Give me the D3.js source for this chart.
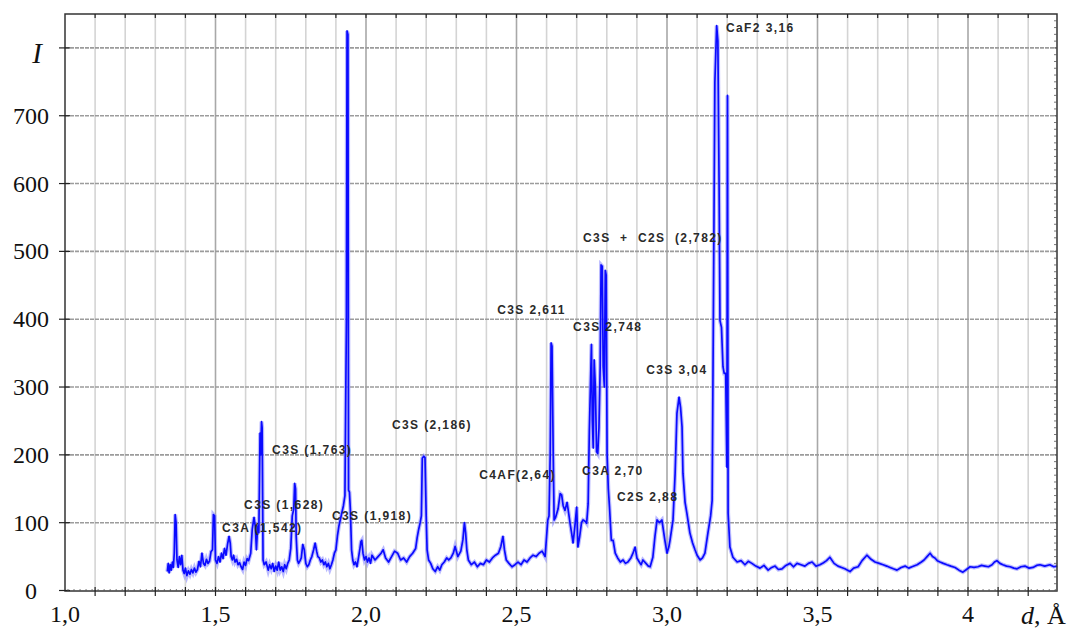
<!DOCTYPE html>
<html>
<head>
<meta charset="utf-8">
<script src="https://cdn.jsdelivr.net/npm/d3@7"></script>
<style>
  body { margin: 0; background: #fff; }
  .ann { font-family: "Liberation Sans", Arial, sans-serif; font-weight: bold; font-size: 12px; fill: #2a2a2a; letter-spacing: 1.4px; white-space: pre; }
  .tick-label { font-family: "Liberation Serif", "Times New Roman", serif; font-size: 24px; fill: #111; }
</style>
</head>
<body>
<svg id="chart" width="1072" height="630"></svg>
<script>
(function(window, document, undefined){

  // tick labels (decimal comma as in the original)
  var xTickValues = [1.0, 1.5, 2.0, 2.5, 3.0, 3.5, 4.0];
  var xTickLabels = ["1,0", "1,5", "2,0", "2,5", "3,0", "3,5", "4"];
  var yTickValues = [0, 100, 200, 300, 400, 500, 600, 700];
  var yTickLabels = ["0", "100", "200", "300", "400", "500", "600", "700"];

  // peak labels: text, d (left edge of text), I (middle of text)
  var annText = ["C3A (1,542)", "C3S (1,628)", "C3S (1,763)", "C3S (1,918)", "C3S (2,186)",
                 "C4AF(2,64)", "C3S 2,611", "C3S 2,748", "C3S  +  C2S  (2,782)", "C3A 2,70",
                 "C2S 2,88", "C3S 3,04", "CaF2 3,16"];
  var annD = [1.522, 1.595, 1.688, 1.887, 2.086, 2.376, 2.436, 2.688, 2.721, 2.718, 2.834, 2.931, 3.196];
  var annI = [92, 126, 207, 110, 244, 170, 413, 388, 519, 176, 138, 325, 830];

  // diffractogram, [d (Å), I]
  var spectrum = [
    [1.340,28],[1.343,40],[1.346,26],[1.350,38],[1.353,30],[1.357,42],[1.360,34],[1.363,55],[1.366,112],[1.369,100],
    [1.372,45],[1.376,34],[1.380,50],[1.384,38],[1.388,52],[1.392,30],[1.396,25],[1.400,33],[1.405,22],[1.410,29],
    [1.415,24],[1.420,31],[1.425,26],[1.430,33],[1.435,27],[1.440,31],[1.445,43],[1.450,35],[1.455,55],[1.460,40],
    [1.465,37],[1.470,46],[1.475,40],[1.480,43],[1.485,57],[1.490,60],[1.493,112],[1.497,110],[1.500,45],[1.505,40],
    [1.510,50],[1.515,42],[1.520,55],[1.525,47],[1.530,62],[1.535,52],[1.540,68],[1.545,80],[1.549,70],[1.552,50],
    [1.556,45],[1.560,52],[1.565,42],[1.570,46],[1.575,38],[1.580,41],[1.585,35],[1.590,31],[1.595,42],[1.600,37],
    [1.605,47],[1.610,44],[1.617,55],[1.622,90],[1.628,108],[1.632,95],[1.636,60],[1.640,95],[1.644,85],[1.648,232],
    [1.650,200],[1.653,249],[1.655,240],[1.658,45],[1.662,38],[1.668,42],[1.675,30],[1.680,38],[1.685,32],[1.690,40],
    [1.695,28],[1.700,36],[1.705,30],[1.710,42],[1.715,30],[1.720,35],[1.725,28],[1.730,38],[1.735,32],[1.740,40],
    [1.745,45],[1.750,62],[1.755,110],[1.760,120],[1.763,158],[1.766,150],[1.768,80],[1.772,45],[1.776,40],[1.781,44],
    [1.785,48],[1.790,68],[1.795,60],[1.800,40],[1.805,35],[1.810,38],[1.815,45],[1.820,50],[1.826,60],[1.831,70],
    [1.836,58],[1.840,50],[1.845,48],[1.850,42],[1.855,45],[1.860,38],[1.865,42],[1.870,35],[1.875,40],[1.880,32],
    [1.885,38],[1.890,45],[1.895,55],[1.900,60],[1.905,80],[1.910,95],[1.915,105],[1.920,115],[1.925,125],[1.930,140],
    [1.933,300],[1.935,400],[1.937,825],[1.940,820],[1.942,148],[1.945,145],[1.948,120],[1.952,60],[1.956,45],[1.960,38],
    [1.965,42],[1.970,35],[1.975,48],[1.980,62],[1.983,72],[1.986,74],[1.990,55],[1.995,45],[2.000,50],[2.005,42],
    [2.010,48],[2.015,40],[2.020,52],[2.030,45],[2.040,50],[2.050,55],[2.057,60],[2.065,48],[2.075,42],[2.085,50],
    [2.095,58],[2.105,55],[2.115,45],[2.125,48],[2.135,42],[2.145,50],[2.155,55],[2.165,62],[2.170,78],[2.175,90],
    [2.180,100],[2.184,110],[2.187,195],[2.192,198],[2.196,196],[2.200,110],[2.203,60],[2.208,45],[2.215,40],[2.222,32],
    [2.230,28],[2.238,35],[2.245,30],[2.252,38],[2.260,42],[2.268,48],[2.275,45],[2.282,48],[2.290,55],[2.296,65],
    [2.305,50],[2.315,58],[2.322,75],[2.327,100],[2.331,85],[2.335,60],[2.340,45],[2.350,38],[2.360,42],[2.370,35],
    [2.380,40],[2.390,38],[2.400,45],[2.410,42],[2.420,48],[2.430,52],[2.440,55],[2.448,65],[2.455,80],[2.460,60],
    [2.466,45],[2.475,40],[2.485,35],[2.495,38],[2.505,42],[2.515,38],[2.525,45],[2.535,42],[2.545,48],[2.555,52],
    [2.565,50],[2.575,55],[2.585,58],[2.595,50],[2.600,80],[2.604,104],[2.608,110],[2.612,200],[2.615,365],[2.618,360],
    [2.622,200],[2.625,104],[2.630,108],[2.638,120],[2.645,143],[2.650,141],[2.655,125],[2.661,118],[2.668,130],[2.673,115],
    [2.678,99],[2.683,85],[2.688,70],[2.694,95],[2.700,123],[2.704,64],[2.710,80],[2.716,100],[2.721,104],[2.728,102],
    [2.733,99],[2.738,128],[2.742,236],[2.749,363],[2.752,250],[2.755,210],[2.758,340],[2.762,300],[2.766,205],[2.770,202],
    [2.774,240],[2.778,330],[2.781,480],[2.785,478],[2.788,330],[2.792,300],[2.795,472],[2.798,465],[2.801,200],[2.805,150],
    [2.809,123],[2.815,74],[2.821,74],[2.828,55],[2.836,48],[2.845,42],[2.854,45],[2.862,40],[2.870,42],[2.880,48],
    [2.887,55],[2.894,64],[2.900,48],[2.908,42],[2.914,38],[2.920,45],[2.930,40],[2.938,36],[2.944,35],[2.953,49],
    [2.960,80],[2.967,104],[2.975,100],[2.983,104],[2.993,74],[3.000,55],[3.006,64],[3.010,74],[3.020,104],[3.027,173],
    [3.033,261],[3.040,285],[3.045,270],[3.050,241],[3.053,173],[3.060,130],[3.066,114],[3.076,85],[3.085,70],[3.093,60],
    [3.100,52],[3.110,45],[3.118,48],[3.126,55],[3.136,85],[3.145,110],[3.150,133],[3.154,400],[3.159,749],[3.165,833],
    [3.169,810],[3.173,600],[3.176,398],[3.181,388],[3.186,330],[3.190,320],[3.195,320],[3.199,182],[3.201,730],[3.203,114],
    [3.209,64],[3.219,49],[3.233,42],[3.246,44],[3.259,38],[3.270,43],[3.282,40],[3.295,36],[3.309,33],[3.322,37],
    [3.336,30],[3.348,34],[3.359,36],[3.370,31],[3.382,32],[3.395,37],[3.409,40],[3.420,35],[3.432,40],[3.445,38],
    [3.458,36],[3.470,40],[3.482,42],[3.495,36],[3.508,38],[3.520,41],[3.530,44],[3.541,49],[3.555,40],[3.568,36],
    [3.580,34],[3.591,32],[3.600,30],[3.608,28],[3.620,33],[3.635,35],[3.648,44],[3.664,52],[3.678,46],[3.691,42],
    [3.705,40],[3.718,38],[3.730,36],[3.741,34],[3.752,32],[3.764,30],[3.778,34],[3.791,36],[3.803,33],[3.814,35],
    [3.831,38],[3.845,42],[3.854,45],[3.864,50],[3.874,55],[3.882,50],[3.890,48],[3.898,44],[3.907,42],[3.918,40],
    [3.930,38],[3.943,36],[3.957,34],[3.970,30],[3.983,27],[3.995,31],[4.007,35],[4.020,34],[4.033,35],[4.045,37],
    [4.056,36],[4.068,35],[4.080,38],[4.088,42],[4.096,44],[4.106,40],[4.116,38],[4.128,36],[4.140,35],[4.152,33],
    [4.163,32],[4.176,35],[4.189,36],[4.203,33],[4.216,34],[4.228,37],[4.239,38],[4.255,36],[4.272,38],[4.285,35],
    [4.296,36]
  ];

  var left = 65, right = 1057, top = 14, bottom = 591;

  var svg = d3.select("#chart");

  var x = d3.scaleLinear().domain([1, 4.3]).range([left, left + 3.3 * 301]);
  var y = d3.scaleLinear().domain([0, 850]).range([590.5, top]);

  // **************   GRID   ****************//
  var vLines = d3.range(11, 43).map(function(v){ return v / 10; });
  svg.append("g").selectAll("line")
    .data(vLines)
    .enter().append("line")
    .attr("x1", function(d){ return x(d); })
    .attr("x2", function(d){ return x(d); })
    .attr("y1", top).attr("y2", bottom)
    .style("stroke", function(d){ return Math.round(d * 10) % 5 === 0 ? "#a8a8a8" : "#d4d4d4"; })
    .style("stroke-width", 1.6);

  svg.append("g").selectAll("line")
    .data(d3.range(100, 900, 100))
    .enter().append("line")
    .attr("x1", left).attr("x2", right)
    .attr("y1", function(d){ return y(d); })
    .attr("y2", function(d){ return y(d); })
    .style("stroke", "#9c9c9c")
    .style("stroke-width", 1.6)
    .style("stroke-dasharray", "4,1");

  // **************   SPECTRUM   ****************//
  var line = d3.line()
    .x(function(d){ return x(d[0]); })
    .y(function(d){ return y(d[1]); });

  // light halo first, like the scanned trace
  svg.append("path")
    .datum(spectrum)
    .attr("d", line)
    .style("fill", "none")
    .style("stroke", "#8c8cff")
    .style("stroke-width", 4)
    .style("opacity", 0.6);

  svg.append("path")
    .datum(spectrum)
    .attr("d", line)
    .style("fill", "none")
    .style("stroke", "#0a0aff")
    .style("stroke-width", 1.7)
    .style("stroke-linejoin", "round");

  // **************   FRAME + TICKS   ****************//
  svg.append("rect")
    .attr("x", left).attr("y", top)
    .attr("width", right - left).attr("height", bottom - top)
    .style("fill", "none")
    .style("stroke", "#333")
    .style("stroke-width", 1.5);

  var ticks = svg.append("g").style("stroke", "#222").style("stroke-width", 1.2);

  // left axis crosses
  ticks.selectAll(".ly")
    .data(d3.range(0, 900, 100))
    .enter().append("line")
    .attr("x1", left - 6).attr("x2", left + 5)
    .attr("y1", function(d){ return y(d); })
    .attr("y2", function(d){ return y(d); });

  // bottom and top ticks every 0.1
  ticks.selectAll(".bx")
    .data(vLines)
    .enter().append("line")
    .attr("x1", function(d){ return x(d); })
    .attr("x2", function(d){ return x(d); })
    .attr("y1", bottom - 4).attr("y2", bottom + 5);

  ticks.selectAll(".tx")
    .data(vLines)
    .enter().append("line")
    .attr("x1", function(d){ return x(d); })
    .attr("x2", function(d){ return x(d); })
    .attr("y1", top).attr("y2", top + 4);

  // fine ticks along bottom and right
  svg.append("g").style("stroke", "#555").style("stroke-width", 0.8)
    .selectAll("line")
    .data(d3.range(101, 430, 2).map(function(v){ return v / 100; }))
    .enter().append("line")
    .attr("x1", function(d){ return x(d); })
    .attr("x2", function(d){ return x(d); })
    .attr("y1", bottom - 2).attr("y2", bottom);

  svg.append("g").style("stroke", "#555").style("stroke-width", 0.8)
    .selectAll("line")
    .data(d3.range(0, 850, 10))
    .enter().append("line")
    .attr("x1", right - 3).attr("x2", right)
    .attr("y1", function(d){ return y(d); })
    .attr("y2", function(d){ return y(d); });

  // **************   LABELS   ****************//
  svg.append("g").selectAll("text")
    .data(yTickValues)
    .enter().append("text")
    .attr("class", "tick-label")
    .attr("x", 31)
    .attr("y", function(d){ return y(d) + 8; })
    .attr("text-anchor", "middle")
    .text(function(d, i){ return yTickLabels[i]; });

  svg.append("g").selectAll("text")
    .data(xTickValues)
    .enter().append("text")
    .attr("class", "tick-label")
    .attr("x", function(d){ return x(d); })
    .attr("y", 622)
    .attr("text-anchor", "middle")
    .text(function(d, i){ return xTickLabels[i]; });

  svg.append("text")
    .attr("class", "tick-label")
    .attr("x", 37).attr("y", 63)
    .attr("text-anchor", "middle")
    .style("font-style", "italic")
    .style("font-size", "29px")
    .text("I");

  var dLabel = svg.append("text")
    .attr("class", "tick-label")
    .attr("x", 1021).attr("y", 624)
    .style("font-size", "26px");
  dLabel.append("tspan").style("font-style", "italic").text("d");
  dLabel.append("tspan").text(", Å");

  svg.append("g").selectAll("text")
    .data(annText)
    .enter().append("text")
    .attr("class", "ann")
    .attr("x", function(d, i){ return x(annD[i]); })
    .attr("y", function(d, i){ return y(annI[i]) + 4; })
    .text(function(d){ return d; });

})(this, document);
</script>
</body>
</html>
